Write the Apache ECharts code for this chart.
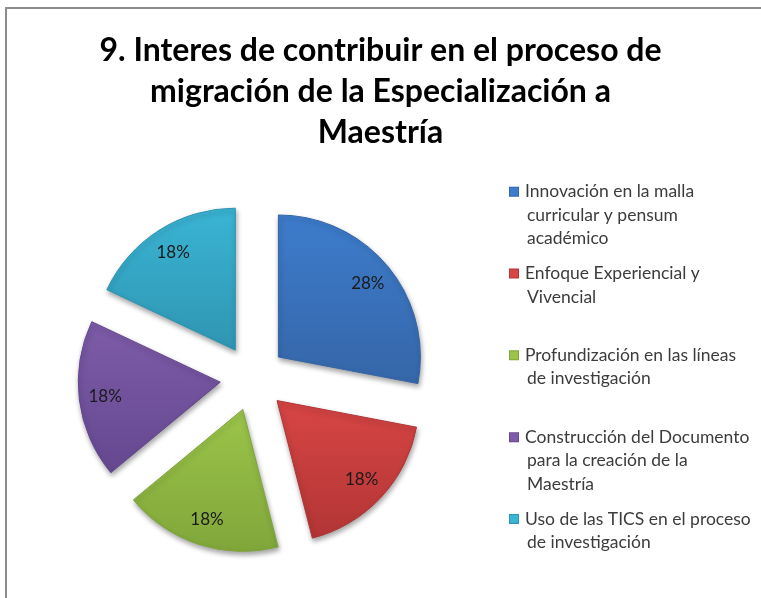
<!DOCTYPE html>
<html>
<head>
<meta charset="utf-8">
<script src="https://cdn.jsdelivr.net/npm/echarts@6/dist/echarts.min.js"></script>
<style>
  html, body { margin: 0; padding: 0; background: #fff; }
  #pieChart { width: 761px; height: 598px; }
</style>
</head>
<body>
<div id="pieChart"></div>
<script>
// categorias (con saltos de linea tal como aparecen en la leyenda)
const categories = [
  'Innovación en la malla\ncurricular y pensum\nacadémico',
  'Enfoque Experiencial y\nVivencial',
  'Profundización en las líneas\nde investigación',
  'Construcción del Documento\npara la creación de la\nMaestría',
  'Uso de las TICS en el proceso\nde investigación'
]
const values = [28, 18, 18, 18, 18]
const colors = ['#3d7ccc', '#d84545', '#9bc54a', '#7d5ba8', '#3ab4d4']
const darkColors = ['#3566a8', '#b23535', '#80a63a', '#654890', '#2f95b2']

const titleText = '9. Interes de contribuir en el proceso de\nmigración de la Especialización a\nMaestría'

let myChart = echarts.init(document.getElementById('pieChart'))

// marcadores de la leyenda como rich text (alineados con la primera linea)
const rich = {
  t: { fontFamily: 'Lato', fontSize: 17.5, color: '#3c3c3c', lineHeight: 23.5 },
  g: { width: 7, height: 9 },
  s: { width: 17, height: 9, lineHeight: 23.5 }
}
colors.forEach((c, i) => {
  rich['m' + i] = {
    width: 8, height: 8,
    backgroundColor: c,
    borderColor: darkColors[i],
    borderWidth: 1
  }
})

function legendFormatter(name) {
  let i = categories.indexOf(name)
  let lines = name.split('\n')
  while (lines.length < 3) lines.push('')
  let out = '{m' + i + '|}{g|}{t|' + lines[0] + '}'
  for (let k = 1; k < lines.length; k++) {
    out += '\n{s|}' + (lines[k] ? '{t|' + lines[k] + '}' : '{t| }')
  }
  return out
}

const sliceData = categories.map((name, i) => ({
  name: name,
  value: values[i],
  selected: true,
  itemStyle: {
    color: new echarts.graphic.LinearGradient(0, 0, 0, 1, [
      { offset: 0, color: colors[i] },
      { offset: 1, color: darkColors[i] }
    ]),
    borderColor: darkColors[i],
    borderWidth: 1,
    shadowBlur: 5,
    shadowOffsetX: 1,
    shadowOffsetY: 3,
    shadowColor: 'rgba(0,0,0,0.35)'
  }
}))

const labelData = categories.map((name, i) => ({
  name: name,
  value: values[i],
  selected: true
}))

let option = {
  backgroundColor: '#ffffff',
  animation: false,
  title: {
    text: titleText,
    left: 'center',
    top: 25,
    textStyle: {
      fontFamily: 'Lato',
      fontWeight: 'bold',
      fontSize: 32,
      color: '#000000',
      lineHeight: 41
    }
  },
  legend: {
    orient: 'vertical',
    left: 499,
    top: 175,
    itemGap: 11.3,
    itemWidth: 0,
    itemHeight: 0,
    selectedMode: false,
    data: categories,
    formatter: legendFormatter,
    textStyle: { rich: rich, lineHeight: 23.5 }
  },
  graphic: [
    {
      type: 'rect',
      shape: { x: 6, y: 8, width: 800, height: 700 },
      style: { fill: 'none', stroke: '#8c8c8c', lineWidth: 2 },
      silent: true
    }
  ],
  series: [
    {
      name: 'interes',
      type: 'pie',
      center: [253, 378],
      radius: 142,
      startAngle: 90,
      clockwise: true,
      selectedMode: 'multiple',
      selectedOffset: 33,
      label: { show: false },
      labelLine: { show: false },
      emphasis: { disabled: true },
      data: sliceData
    },
    {
      // serie transparente solo para colocar los porcentajes
      name: 'etiquetas',
      type: 'pie',
      center: [253, 378],
      radius: [84, 142],
      startAngle: 90,
      clockwise: true,
      silent: true,
      selectedMode: 'multiple',
      selectedOffset: 33,
      percentPrecision: 0,
      itemStyle: { color: 'rgba(0,0,0,0)' },
      label: {
        show: true,
        position: 'inside',
        formatter: '{d}%',
        fontFamily: 'Lato',
        fontSize: 17,
        color: '#1a1a1a'
      },
      labelLine: { show: false },
      emphasis: { disabled: true },
      data: labelData
    }
  ]
}
myChart.setOption(option)
</script>
</body>
</html>
